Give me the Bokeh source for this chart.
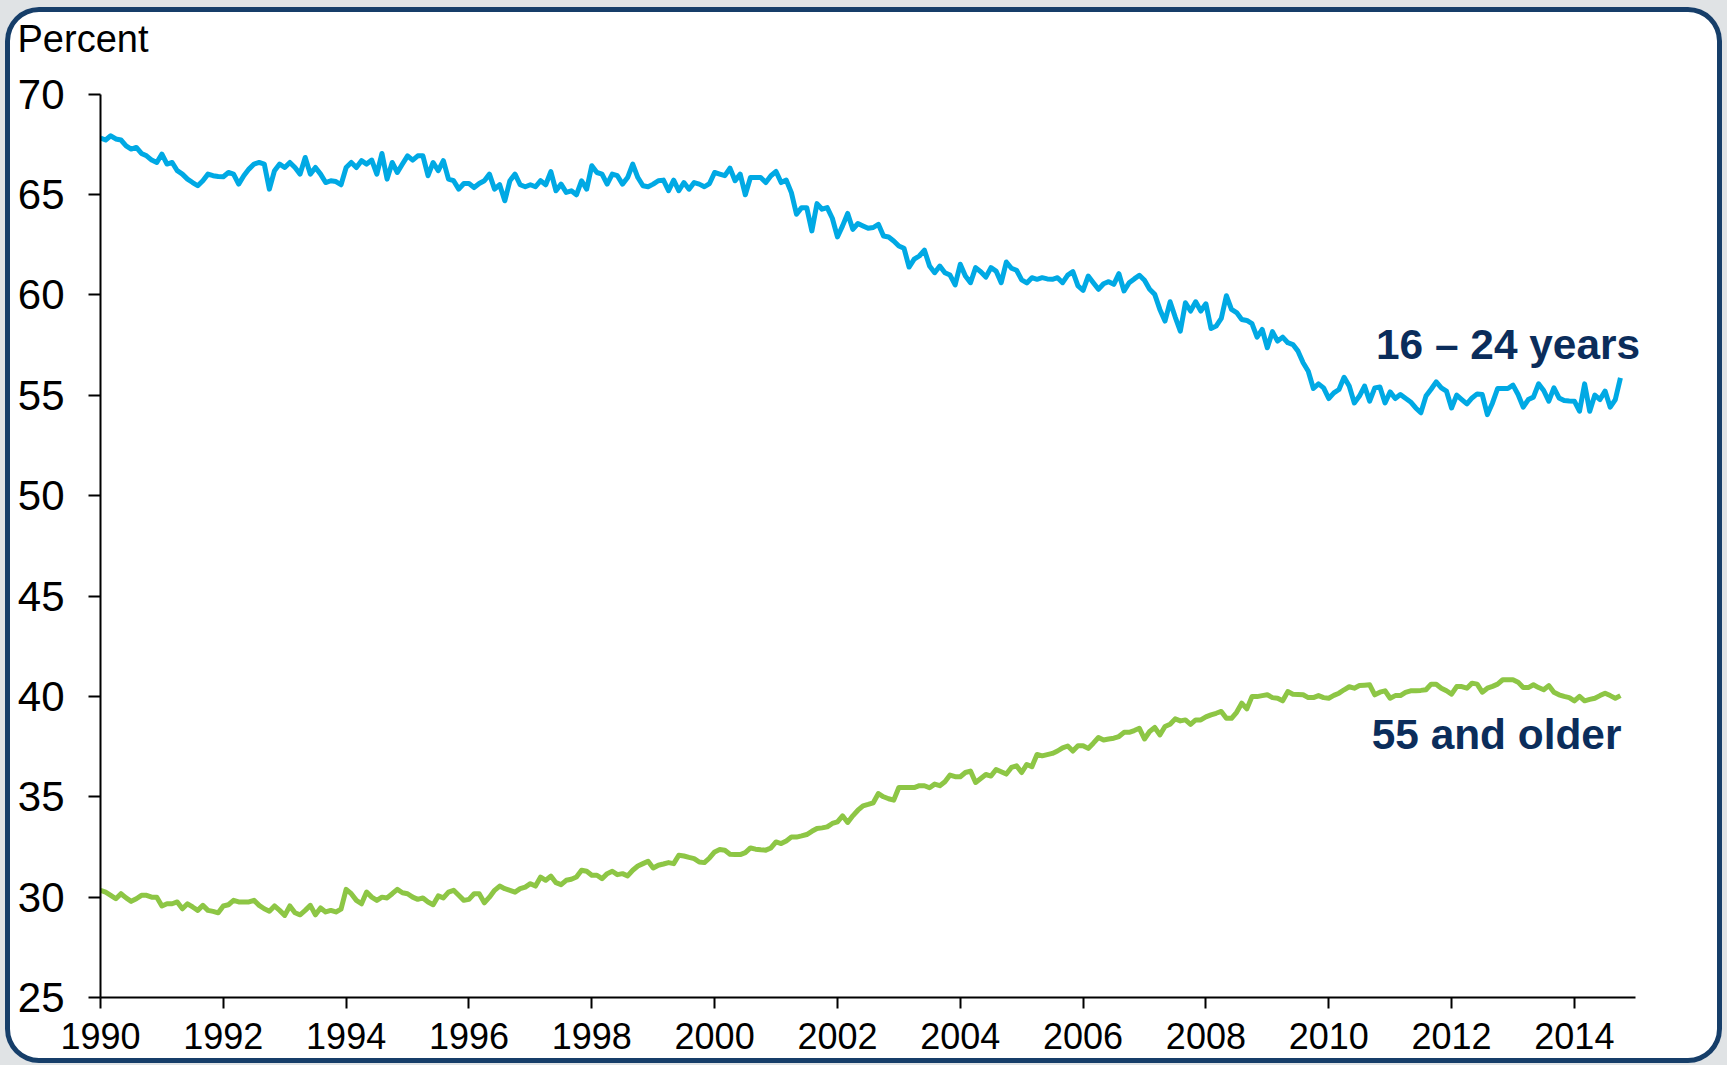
import numpy as np
import pandas as pd
from bokeh.plotting import figure
from bokeh.models import Label, FixedTicker, Range1d
from bokeh.embed import file_html
from bokeh.resources import INLINE

# Monthly share (percent), January 1990 onward
youth_16_24 = [
    67.82, 67.72, 67.93, 67.77, 67.72, 67.43, 67.27, 67.35, 67.05, 66.93, 66.72, 66.6,
    67.02, 66.52, 66.6, 66.19, 66.02, 65.77, 65.6, 65.44, 65.69, 66.02, 65.94, 65.9,
    65.89, 66.1, 66.02, 65.52, 65.94, 66.27, 66.52, 66.6, 66.52, 65.27, 66.19, 66.52,
    66.35, 66.6, 66.35, 66.02, 66.85, 66.02, 66.35, 66.02, 65.6, 65.69, 65.65, 65.49,
    66.35, 66.6, 66.35, 66.69, 66.52, 66.72, 66.02, 67.05, 65.77, 66.6, 66.1, 66.52,
    66.93, 66.72, 66.93, 66.93, 65.94, 66.6, 66.19, 66.69, 65.77, 65.69, 65.27, 65.55,
    65.55, 65.35, 65.55, 65.69, 66.02, 65.27, 65.49, 64.69, 65.69, 66.02, 65.49, 65.39,
    65.49, 65.39, 65.69, 65.49, 66.14, 65.19, 65.52, 65.11, 65.19, 64.99, 65.69, 65.27,
    66.44, 66.1, 66.02, 65.52, 66.02, 65.94, 65.52, 65.85, 66.52, 65.85, 65.44, 65.39,
    65.52, 65.69, 65.72, 65.19, 65.72, 65.19, 65.6, 65.27, 65.6, 65.52, 65.39, 65.55,
    66.1, 66.02, 65.94, 66.32, 65.69, 66.02, 64.99, 65.85, 65.85, 65.85, 65.6, 65.94,
    66.15, 65.6, 65.72, 65.1, 64.02, 64.35, 64.35, 63.19, 64.55, 64.27, 64.35, 63.82,
    62.89, 63.44, 64.06, 63.27, 63.56, 63.44, 63.32, 63.36, 63.52, 62.94, 62.89, 62.69,
    62.44, 62.33, 61.39, 61.78, 61.94, 62.23, 61.44, 61.11, 61.44, 61.11, 60.99, 60.5,
    61.53, 60.94, 60.61, 61.36, 61.16, 60.89, 61.36, 61.19, 60.61, 61.64, 61.33, 61.23,
    60.75, 60.6, 60.86, 60.78, 60.86, 60.8, 60.78, 60.86, 60.61, 60.99, 61.16, 60.45,
    60.23, 60.94, 60.61, 60.28, 60.56, 60.66, 60.53, 61.06, 60.2, 60.61, 60.8, 60.98,
    60.73, 60.28, 60.03, 59.28, 58.7, 59.66, 58.9, 58.2, 59.61, 59.2, 59.66, 59.2,
    59.56, 58.33, 58.45, 58.83, 59.96, 59.28, 59.12, 58.78, 58.73, 58.57, 57.9, 58.28,
    57.37, 58.17, 57.7, 57.9, 57.62, 57.53, 57.2, 56.62, 56.2, 55.34, 55.57, 55.37,
    54.84, 55.12, 55.29, 55.9, 55.46, 54.62, 54.96, 55.46, 54.71, 55.37, 55.41, 54.62,
    55.17, 54.84, 55.04, 54.85, 54.67, 54.37, 54.13, 54.96, 55.3, 55.67, 55.37, 55.21,
    54.37, 55.01, 54.79, 54.57, 54.87, 55.07, 55.04, 54.04, 54.62, 55.34, 55.34, 55.34,
    55.51, 55.04, 54.41, 54.79, 54.91, 55.57, 55.24, 54.71, 55.37, 54.87, 54.74, 54.72,
    54.71, 54.21, 55.57, 54.21, 55.01, 54.79, 55.21, 54.41, 54.79, 55.87,
]

older_55_plus = [
    30.34, 30.25, 30.09, 29.92, 30.17, 29.96, 29.79, 29.92, 30.09, 30.09, 30.0, 30.0,
    29.56, 29.67, 29.67, 29.76, 29.42, 29.67, 29.51, 29.34, 29.59, 29.34, 29.29, 29.22,
    29.56, 29.62, 29.84, 29.76, 29.76, 29.76, 29.84, 29.59, 29.42, 29.3, 29.56, 29.34,
    29.09, 29.56, 29.22, 29.12, 29.34, 29.59, 29.12, 29.46, 29.26, 29.34, 29.26, 29.4,
    30.39, 30.17, 29.84, 29.67, 30.25, 30.0, 29.84, 30.0, 29.96, 30.17, 30.39, 30.22,
    30.17, 30.0, 29.89, 29.96, 29.76, 29.62, 30.06, 29.96, 30.25, 30.34, 30.09, 29.84,
    29.89, 30.17, 30.17, 29.72, 30.0, 30.34, 30.55, 30.42, 30.34, 30.25, 30.42, 30.5,
    30.67, 30.55, 31.0, 30.84, 31.05, 30.72, 30.62, 30.84, 30.89, 31.0, 31.34, 31.29,
    31.09, 31.09, 30.92, 31.17, 31.29, 31.12, 31.17, 31.06, 31.34, 31.55, 31.67, 31.79,
    31.45, 31.59, 31.65, 31.72, 31.67, 32.09, 32.05, 31.98, 31.92, 31.75, 31.72, 31.95,
    32.25, 32.37, 32.34, 32.14, 32.13, 32.12, 32.22, 32.45, 32.39, 32.36, 32.34, 32.45,
    32.75, 32.67, 32.8, 32.99, 32.99, 33.05, 33.12, 33.28, 33.42, 33.45, 33.5, 33.67,
    33.75, 34.05, 33.72, 34.05, 34.33, 34.55, 34.62, 34.7, 35.16, 35.0, 34.9, 34.83,
    35.46, 35.46, 35.46, 35.46, 35.55, 35.55, 35.45, 35.63, 35.55, 35.75, 36.08, 36.0,
    36.0, 36.21, 36.28, 35.71, 35.91, 36.11, 36.03, 36.36, 36.25, 36.13, 36.46, 36.54,
    36.21, 36.61, 36.5, 37.11, 37.04, 37.1, 37.16, 37.28, 37.44, 37.53, 37.28, 37.54,
    37.54, 37.41, 37.67, 37.95, 37.83, 37.88, 37.92, 38.0, 38.21, 38.21, 38.3, 38.41,
    37.88, 38.25, 38.45, 38.08, 38.5, 38.61, 38.88, 38.78, 38.83, 38.61, 38.83, 38.83,
    38.98, 39.08, 39.16, 39.25, 38.91, 38.91, 39.21, 39.66, 39.38, 39.99, 39.99, 40.04,
    40.08, 39.94, 39.91, 39.78, 40.24, 40.11, 40.1, 40.08, 39.94, 39.94, 40.04, 39.94,
    39.91, 40.05, 40.16, 40.33, 40.48, 40.41, 40.54, 40.56, 40.58, 40.08, 40.21, 40.28,
    39.91, 40.04, 40.04, 40.2, 40.28, 40.28, 40.3, 40.33, 40.61, 40.61, 40.41, 40.28,
    40.11, 40.49, 40.49, 40.41, 40.66, 40.61, 40.21, 40.41, 40.5, 40.61, 40.83, 40.83,
    40.83, 40.71, 40.44, 40.44, 40.58, 40.44, 40.33, 40.54, 40.21, 40.08, 40.0, 39.94,
    39.78, 40.0, 39.78, 39.85, 39.91, 40.04, 40.16, 40.04, 39.91, 40.04,
]

year_ticks = list(range(1990, 2015, 2))
percent_ticks = list(range(25, 71, 5))
series_labels = ["16 \u2013 24 years", "55 and older"]
unit_label = "Percent"

# decimal-year position of each monthly observation
months = pd.date_range("1990-01-01", periods=len(youth_16_24), freq="MS")
x_years = (months.year + (months.month - 1) / 12.0).to_numpy()

BLUE = "#00a9e4"
GREEN = "#8dc645"
NAVY = "#0b2d5b"
FONT = "Liberation Sans"

p = figure(width=1717, height=1056, output_backend="svg", toolbar_location=None,
           x_range=Range1d(1990, 2015.5), y_range=Range1d(25, 71.63),
           min_border_left=95, min_border_right=56, min_border_top=54,
           min_border_bottom=66)

p.styles = {
    "border-radius": "34px",
    "background-color": "white",
    "box-shadow": "inset 0 0 0 5px #163e69, 0 0 0 40px #e0e3e5",
    "margin": "7px 0 0 5px",
}

p.background_fill_color = None
p.border_fill_color = None
p.outline_line_color = None
p.grid.visible = False

p.title.text = unit_label
p.title.align = "left"
p.title.offset = -83
p.title.standoff = 4
p.title.vertical_align = "bottom"
p.title.text_font = FONT
p.title.text_font_size = "38px"
p.title.text_font_style = "normal"
p.title.text_color = "black"

p.line(x_years, youth_16_24, line_color=BLUE, line_width=5, line_join="round")
p.line(x_years, older_55_plus, line_color=GREEN, line_width=5, line_join="round")

xa = p.xaxis[0]
xa.ticker = FixedTicker(ticks=year_ticks)
xa.bounds = (1990, 2015)
xa.minor_tick_line_color = None
xa.major_tick_in = 0
xa.major_tick_out = 11
xa.major_tick_line_width = 2
xa.axis_line_width = 2
xa.axis_line_color = "black"
xa.major_tick_line_color = "black"
xa.major_label_text_font = FONT
xa.major_label_text_font_size = "36px"
xa.major_label_text_color = "black"
xa.major_label_standoff = 14

ya = p.yaxis[0]
ya.ticker = FixedTicker(ticks=percent_ticks)
ya.bounds = (25, 70)
ya.minor_tick_line_color = None
ya.major_tick_in = 0
ya.major_tick_out = 12
ya.major_tick_line_width = 2
ya.axis_line_width = 2
ya.axis_line_color = "black"
ya.major_tick_line_color = "black"
ya.major_label_text_font = FONT
ya.major_label_text_font_size = "42px"
ya.major_label_text_color = "black"
ya.major_label_standoff = 24

p.add_layout(Label(x=2010.77, y=57.53, text=series_labels[0],
                   text_font=FONT, text_font_size="42.4px", text_font_style="bold",
                   text_color=NAVY, text_align="left", text_baseline="alphabetic"))
p.add_layout(Label(x=2010.70, y=38.10, text=series_labels[1],
                   text_font=FONT, text_font_size="42.4px", text_font_style="bold",
                   text_color=NAVY, text_align="left", text_baseline="alphabetic"))

open("out.html", "w").write(file_html(p, INLINE))
